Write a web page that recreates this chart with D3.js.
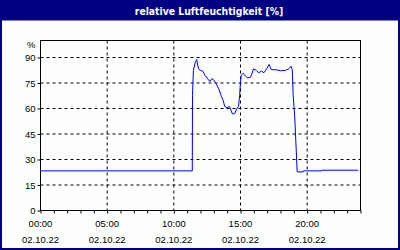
<!DOCTYPE html>
<html><head><meta charset="utf-8">
<script src="https://cdn.jsdelivr.net/npm/d3@7"></script>
<style>html,body{margin:0;padding:0;background:#fcfffc;}svg{display:block;}</style>
</head><body>
<script>
const title = "relative Luftfeuchtigkeit [%]";
const times = ["00:00","11:23","11:24","11:28","11:37","11:43","11:51","12:00","12:10","12:21","12:33","12:42","12:51","13:00","13:11","13:22","13:33","13:42","13:49","14:00","14:09","14:15","14:23","14:33","14:43","14:51","14:56","15:00","15:04","15:12","15:22","15:33","15:45","15:59","16:11","16:22","16:34","16:45","16:56","17:09","17:18","17:45","18:00","18:22","18:37","18:48","18:53","18:57","19:04","19:11","19:15","19:42","19:43","21:05","21:06","23:50"];
const values = [23.3,23.3,67.6,82.4,87.3,88.8,83.3,82.4,82.0,79.4,77.4,75.9,77.6,76.8,74.5,71.6,67.6,64.7,61.2,60.4,61.2,59.8,56.9,56.9,59.8,61.2,67.6,75.5,79.8,80.8,79.0,78.0,78.4,83.3,82.4,81.0,82.0,81.0,82.9,85.9,82.9,82.7,82.2,82.4,83.3,84.9,82.9,67.6,55.0,35.0,22.7,22.7,23.3,23.3,23.7,23.7];
const yTicks = [0,15,30,45,60,75,90];
const xTickHours = [0,5,10,15,20];
const xTickLabels = ["00:00","05:00","10:00","15:00","20:00"];
const dateLabel = "02.10.22";

const W = 400, H = 250;
const svg = d3.select("body").append("svg").attr("width", W).attr("height", H);
svg.append("rect").attr("x",0).attr("y",0).attr("width",W).attr("height",H).attr("fill","#fcfffc");
svg.append("rect").attr("x",1).attr("y",1).attr("width",W-2).attr("height",H-2).attr("fill","none").attr("stroke","#000080").attr("stroke-width",2);
svg.append("rect").attr("x",0).attr("y",0).attr("width",W).attr("height",20.5).attr("fill","#000080");
svg.append("text").attr("x",209).attr("y",14.5).attr("text-anchor","middle")
  .attr("fill","#fff").attr("font-family","'DejaVu Sans Condensed', 'DejaVu Sans', sans-serif").attr("font-weight","bold").attr("font-size","10.3px").text(title);

const x = d3.scaleLinear().domain([0,24]).range([40.5,360.5]);
const y = d3.scaleLinear().domain([0,100]).range([210.5,40.5]);
const toH = s => { const [h,m] = s.split(":").map(Number); return h + m/60; };
const font = "'Liberation Sans', Arial, sans-serif";

// grid
const g = svg.append("g");
g.selectAll("line.gy").data(yTicks.filter(d=>d>0)).join("line")
  .attr("x1",x(0)).attr("x2",x(24)).attr("y1",d=>y(d)).attr("y2",d=>y(d))
  .attr("stroke","#000").attr("stroke-dasharray","3,3");
g.selectAll("line.gx").data(xTickHours.filter(d=>d>0)).join("line")
  .attr("x1",d=>x(d)).attr("x2",d=>x(d)).attr("y1",y(100)).attr("y2",y(0))
  .attr("stroke","#000").attr("stroke-dasharray","3,3");

// frame
svg.append("rect").attr("x",x(0)).attr("y",y(100)).attr("width",x(24)-x(0)).attr("height",y(0)-y(100))
  .attr("fill","none").attr("stroke","#000");

// x axis
const xAxis = d3.axisBottom(x).tickValues(d3.range(0,25)).tickSize(3).tickFormat("");
svg.append("g").attr("transform",`translate(0,${y(0)})`).call(xAxis)
  .call(a=>a.select(".domain").remove()).selectAll("line").attr("stroke","#000");
const xl = svg.append("g").attr("font-family",font).attr("font-size","9.5px").attr("text-anchor","middle").attr("fill","#000");
xl.selectAll("text.t").data(xTickHours).join("text").attr("x",(d)=>x(d)).attr("y",227).text((d,i)=>xTickLabels[i]);
xl.selectAll("text.d").data(xTickHours).join("text").attr("x",(d)=>x(d)).attr("y",243).text(dateLabel);

// y axis
const yAxis = d3.axisLeft(y).tickValues(yTicks).tickSize(3).tickPadding(2).tickFormat(d3.format("d"));
svg.append("g").attr("transform",`translate(${x(0)},0)`).call(yAxis)
  .call(a=>a.select(".domain").remove())
  .call(a=>a.selectAll("text").attr("font-family",font).attr("font-size","9.5px").attr("fill","#000"))
  .selectAll("line").attr("stroke","#000");
svg.append("text").attr("x",35.5).attr("y",47.5).attr("text-anchor","end").attr("font-family",font).attr("font-size","9.5px").text("%");

// line
const data = times.map((t,i)=>({h:toH(t), v:values[i]}));
svg.append("path").datum(data).attr("fill","none").attr("stroke","#0000ff").attr("stroke-width",1)
  .attr("d", d3.line().x(d=>x(d.h)).y(d=>y(d.v)));
</script>
</body></html>
